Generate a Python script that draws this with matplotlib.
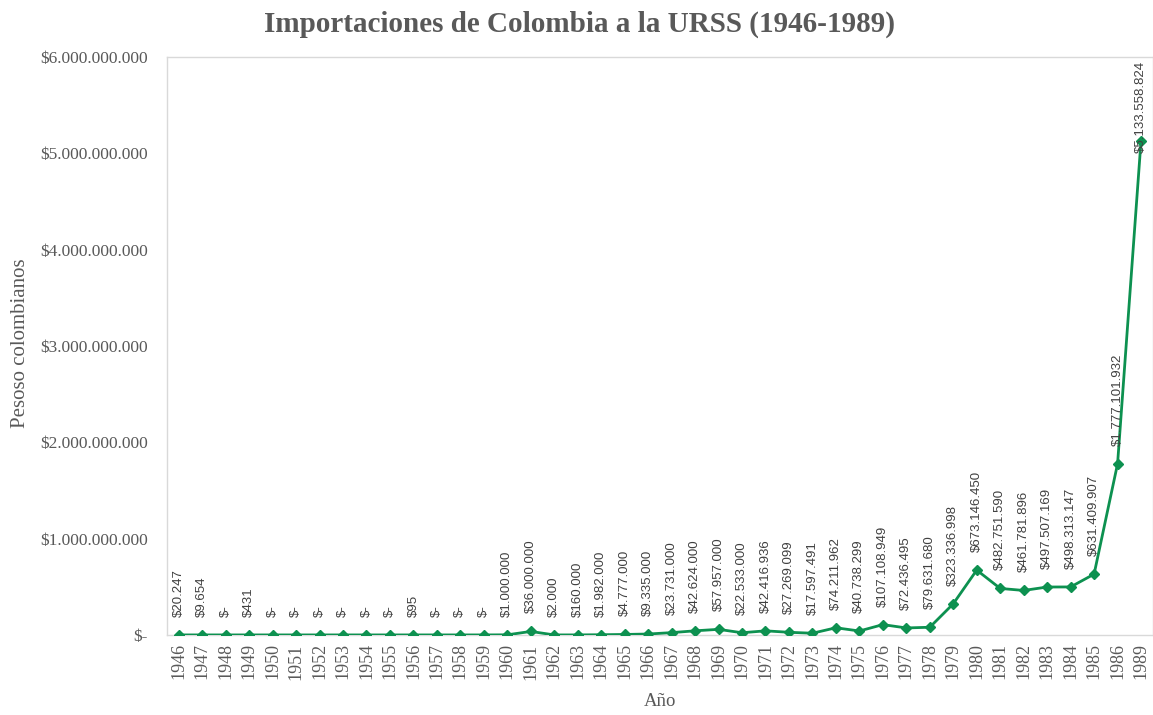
import matplotlib
matplotlib.use("Agg")
import matplotlib.pyplot as plt
from matplotlib.ticker import FuncFormatter

# data
years = [1946, 1947, 1948, 1949, 1950, 1951, 1952, 1953, 1954, 1955, 1956, 1957,
         1958, 1959, 1960, 1961, 1962, 1963, 1964, 1965, 1966, 1967, 1968, 1969,
         1970, 1971, 1972, 1973, 1974, 1975, 1976, 1977, 1978, 1979, 1980, 1981,
         1982, 1983, 1984, 1985, 1986, 1989]
values = [20247, 9654, 0, 431, 0, 0, 0, 0, 0, 0, 95, 0,
          0, 0, 1000000, 36000000, 2000, 160000, 1982000, 4777000, 9335000, 23731000, 42624000, 57957000,
          22533000, 42416936, 27269099, 17597491, 74211962, 40738299, 107108949, 72436495, 79631680, 323336998, 673146450, 482751590,
          461781896, 497507169, 498313147, 631409907, 1777101932, 5133558824]
yticks = [0, 1e9, 2e9, 3e9, 4e9, 5e9, 6e9]

title = "Importaciones de Colombia a la URSS (1946-1989)"
xlabel = "Año"
ylabel = "Pesoso colombianos"

green = "#0D9150"
grey = "#595959"


def pesos(v):
    if v == 0:
        return "$-"
    return "$" + f"{int(round(v)):,}".replace(",", ".")


fig = plt.figure(figsize=(11.53, 7.15), dpi=100)
ax = fig.add_axes([0.1448, 0.112, 0.855, 0.808])

xs = list(range(len(years)))
ax.plot(xs, values, color=green, lw=2, marker="D", ms=5, zorder=3)

for x, v in zip(xs, values):
    if v > 4.5e9:
        ax.text(x, 5.96e9, pesos(v), rotation=90, ha="center", va="top",
                fontsize=9.5, color="#404040", family="Liberation Sans")
    else:
        ax.annotate(pesos(v), (x, v), xytext=(0, 13), textcoords="offset points",
                    rotation=90, ha="center", va="bottom",
                    fontsize=9.5, color="#404040", family="Liberation Sans")

ax.set_xlim(-0.5, len(years) - 0.5)
ax.set_ylim(0, 6e9)
ax.set_xticks(xs)
ax.set_xticklabels([str(y) for y in years], rotation=90, fontsize=13,
                   family="Liberation Serif", color=grey)
ax.set_yticks(yticks)
ax.yaxis.set_major_formatter(FuncFormatter(lambda v, p: pesos(v)))
for lab in ax.get_yticklabels():
    lab.set_family("Liberation Serif")
    lab.set_fontsize(12.5)
    lab.set_color(grey)
ax.tick_params(axis="x", length=0, pad=6)
ax.tick_params(axis="y", length=0, pad=14)

for s in ax.spines.values():
    s.set_color("#D9D9D9")
    s.set_linewidth(1)

ax.set_xlabel(xlabel, fontsize=13.5, family="Liberation Serif", color=grey, labelpad=10)
fig.text(0.018, 0.52, ylabel, rotation=90, ha="center", va="center", fontsize=15,
         family="Liberation Serif", color=grey)
fig.text(0.503, 0.966, title, ha="center", va="center", fontsize=21,
         fontweight="bold", family="Liberation Serif", color=grey)

fig.savefig("out.png", dpi=100)
